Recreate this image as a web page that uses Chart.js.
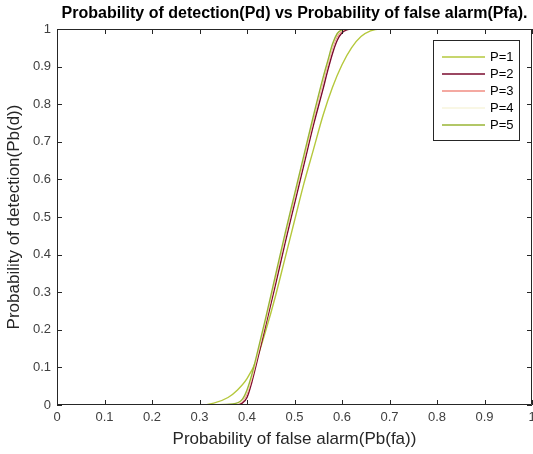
<!DOCTYPE html>
<html>
<head>
<meta charset="utf-8">
<script src="https://cdn.jsdelivr.net/npm/chart.js@4/dist/chart.umd.min.js"></script>
<style>
html,body{margin:0;padding:0;background:#fff;}
#wrap{width:533px;height:454px;position:relative;}
</style>
</head>
<body>
<div id="wrap"><canvas id="c" width="533" height="454"></canvas></div>
<script>
// ---- data ----
const seriesLabels = ["P=1", "P=2", "P=3", "P=4", "P=5"];
const seriesColors = ["#b5c83c", "#7a0a2e", "#f08c82", "#f7f4dc", "#98b434"];

const xTicks = [0, 0.1, 0.2, 0.3, 0.4, 0.5, 0.6, 0.7, 0.8, 0.9, 1];
const yTicks = [0, 0.1, 0.2, 0.3, 0.4, 0.5, 0.6, 0.7, 0.8, 0.9, 1];

// P=1 (wider transition)
const p1X = [0, 0.1, 0.2, 0.3, 0.33, 0.36, 0.38, 0.40, 0.42, 0.44, 0.46, 0.48, 0.50, 0.52, 0.54, 0.56, 0.58, 0.60, 0.62, 0.64, 0.66, 0.68, 0.7, 0.8, 0.9, 1];
const p1Y = [0, 0, 0, 0, 0.005, 0.02, 0.04, 0.07, 0.12, 0.2, 0.29, 0.39, 0.49, 0.59, 0.68, 0.77, 0.845, 0.905, 0.95, 0.98, 0.995, 1, 1, 1, 1, 1];

// P=2
const p2X = [0, 0.1, 0.2, 0.3, 0.37, 0.39, 0.40, 0.41, 0.42, 0.44, 0.46, 0.48, 0.50, 0.52, 0.54, 0.56, 0.57, 0.58, 0.59, 0.60, 0.61, 0.62, 0.7, 0.8, 0.9, 1];
const p2Y = [0, 0, 0, 0, 0, 0.005, 0.02, 0.06, 0.11, 0.215, 0.32, 0.43, 0.535, 0.64, 0.745, 0.84, 0.89, 0.935, 0.97, 0.99, 0.998, 1, 1, 1, 1, 1];

// P=3
const p3X = [0, 0.1, 0.2, 0.3, 0.37, 0.39, 0.40, 0.41, 0.42, 0.44, 0.46, 0.48, 0.50, 0.52, 0.54, 0.56, 0.57, 0.58, 0.59, 0.60, 0.61, 0.62, 0.7, 0.8, 0.9, 1];
const p3Y = [0, 0, 0, 0, 0.001, 0.01, 0.03, 0.07, 0.12, 0.225, 0.335, 0.445, 0.55, 0.655, 0.76, 0.86, 0.905, 0.95, 0.98, 0.995, 1, 1, 1, 1, 1, 1];

// P=4
const p4X = [0, 0.1, 0.2, 0.3, 0.37, 0.39, 0.40, 0.41, 0.42, 0.44, 0.46, 0.48, 0.50, 0.52, 0.54, 0.56, 0.57, 0.58, 0.59, 0.60, 0.61, 0.62, 0.7, 0.8, 0.9, 1];
const p4Y = [0, 0, 0, 0, 0.002, 0.012, 0.035, 0.075, 0.125, 0.23, 0.34, 0.45, 0.555, 0.66, 0.765, 0.865, 0.91, 0.955, 0.985, 0.997, 1, 1, 1, 1, 1, 1];

// P=5
const p5X = [0, 0.1, 0.2, 0.3, 0.37, 0.39, 0.40, 0.41, 0.42, 0.44, 0.46, 0.48, 0.50, 0.52, 0.54, 0.56, 0.57, 0.58, 0.59, 0.60, 0.61, 0.62, 0.7, 0.8, 0.9, 1];
const p5Y = [0, 0, 0, 0, 0.003, 0.015, 0.04, 0.08, 0.13, 0.235, 0.345, 0.455, 0.56, 0.665, 0.77, 0.87, 0.915, 0.96, 0.988, 0.998, 1, 1, 1, 1, 1, 1];

const xsAll = [p1X, p2X, p3X, p4X, p5X];
const ysAll = [p1Y, p2Y, p3Y, p4Y, p5Y];

const titleText = "Probability of detection(Pd) vs Probability of false alarm(Pfa).";
const xLabel = "Probability of false alarm(Pb(fa))";
const yLabel = "Probability of detection(Pb(d))";

const FONT = "Arial, 'Liberation Sans', Helvetica, sans-serif";
const AXIS_COLOR = "#262626";

const datasets = seriesLabels.map((lab, i) => ({
  label: lab,
  data: xsAll[i].map((x, k) => ({x: x, y: ysAll[i][k]})),
  borderColor: seriesColors[i],
  backgroundColor: seriesColors[i],
  borderWidth: 1.4,
  pointRadius: 0,
  fill: false,
  cubicInterpolationMode: 'monotone',
  order: seriesLabels.length - i
}));

const boxPlugin = {
  id: 'matlabBox',
  afterDatasetsDraw(chart) {
    const ctx = chart.ctx;
    const a = chart.chartArea;
    const xs = chart.scales.x, ys = chart.scales.y;
    ctx.save();
    ctx.strokeStyle = AXIS_COLOR;
    ctx.lineWidth = 1;
    ctx.beginPath();
    ctx.moveTo(a.left + 0.5, a.top + 0.5);
    ctx.lineTo(a.right - 0.5, a.top + 0.5);
    ctx.lineTo(a.right - 0.5, a.bottom - 0.5);
    ctx.lineTo(a.left + 0.5, a.bottom - 0.5);
    ctx.closePath();
    ctx.stroke();
    const tl = 5;
    ctx.beginPath();
    xTicks.forEach(v => {
      const px = Math.round(xs.getPixelForValue(v)) + 0.5;
      ctx.moveTo(px, a.bottom); ctx.lineTo(px, a.bottom - tl);
      ctx.moveTo(px, a.top); ctx.lineTo(px, a.top + tl);
    });
    yTicks.forEach(v => {
      const py = Math.round(ys.getPixelForValue(v)) + 0.5;
      ctx.moveTo(a.left, py); ctx.lineTo(a.left + tl, py);
      ctx.moveTo(a.right, py); ctx.lineTo(a.right - tl, py);
    });
    ctx.stroke();
    ctx.restore();
  },
  afterDraw(chart) {
    const ctx = chart.ctx;
    const a = chart.chartArea;
    ctx.save();
    ctx.fillStyle = "#000";
    ctx.font = "bold 16px " + FONT;
    ctx.textAlign = "center";
    ctx.textBaseline = "middle";
    ctx.fillText(titleText, (a.left + a.right) / 2, 14);
    const bx = 433, by = 40, bw = 86, bh = 100;
    ctx.fillStyle = "#fff";
    ctx.fillRect(bx, by, bw, bh);
    ctx.strokeStyle = AXIS_COLOR;
    ctx.lineWidth = 1;
    ctx.strokeRect(bx + 0.5, by + 0.5, bw, bh);
    ctx.font = "13px " + FONT;
    ctx.textAlign = "left";
    chart.data.datasets.forEach((ds, i) => {
      const yy = by + 17 + i * 17;
      ctx.strokeStyle = ds.borderColor;
      ctx.lineWidth = 1.4;
      ctx.beginPath();
      ctx.moveTo(bx + 9, yy); ctx.lineTo(bx + 52, yy);
      ctx.stroke();
      ctx.fillStyle = "#000";
      ctx.fillText(ds.label, bx + 57, yy);
    });
    ctx.restore();
  }
};

new Chart(document.getElementById('c'), {
  type: 'line',
  data: { datasets: datasets },
  options: {
    responsive: false,
    animation: false,
    devicePixelRatio: 1,
    layout: { padding: { top: 29, right: 1, bottom: 0, left: 0 } },
    plugins: { legend: { display: false }, tooltip: { enabled: false }, title: { display: false } },
    scales: {
      x: {
        type: 'linear', min: 0, max: 1,
        grid: { display: false, drawTicks: false },
        border: { display: false },
        afterBuildTicks(s) { s.ticks = xTicks.map(v => ({value: v})); },
        afterFit(s) { s.height = 49; s.paddingLeft = 0; s.paddingRight = 0; },
        ticks: { color: "#404040", font: { size: 13, family: FONT }, padding: 5, maxRotation: 0,
          callback: v => String(v) },
        title: { display: true, text: xLabel, color: "#262626", font: { size: 17, family: FONT }, padding: { top: 0, bottom: 4 } }
      },
      y: {
        type: 'linear', min: 0, max: 1,
        grid: { display: false, drawTicks: false },
        border: { display: false },
        afterBuildTicks(s) { s.ticks = yTicks.map(v => ({value: v})); },
        afterFit(s) { s.width = 57; s.paddingTop = 0; s.paddingBottom = 0; },
        ticks: { color: "#404040", font: { size: 13, family: FONT }, padding: 6,
          callback: v => String(v) },
        title: { display: true, text: yLabel, color: "#262626", font: { size: 17, family: FONT }, padding: { top: 4, bottom: 0 } }
      }
    }
  },
  plugins: [boxPlugin]
});
</script>
</body>
</html>
